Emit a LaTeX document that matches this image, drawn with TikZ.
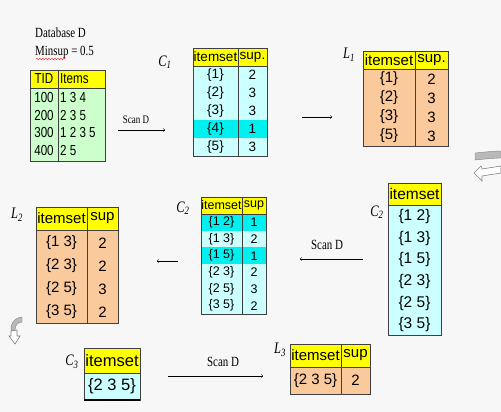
\documentclass[tikz,border=0pt]{standalone}
\usepackage{fontspec}
\setmainfont[FakeStretch=0.78]{Liberation Serif}
\setsansfont{Liberation Sans}
\newfontfamily\narrowsans[FakeStretch=0.8]{Liberation Sans}
\usetikzlibrary{decorations.pathmorphing}

\definecolor{bgpage}{HTML}{F7F7F7}
\definecolor{hdryellow}{HTML}{FFFF00}
\definecolor{dbgreen}{HTML}{CCFFCC}
\definecolor{candcyan}{HTML}{CCFFFF}
\definecolor{prunecyan}{HTML}{00F0F0}
\definecolor{largeorange}{HTML}{FACA9C}

\tikzset{
	tbl/.style={draw=black!75, line width=0.7pt},
	cell/.style={inner sep=0pt, font=\sffamily\fontsize{#1}{#1}\selectfont},
	cell/.default=14,
	dbcell/.style={inner sep=0pt, font=\narrowsans\fontsize{14.5}{14.5}\selectfont},
	setlabel/.style={inner sep=0pt, font=\fontsize{16}{16}\selectfont\itshape},
	scantext/.style={inner sep=0pt, font=\fontsize{#1}{#1}\selectfont},
	scantext/.default=14,
}

\begin{document}
\begin{tikzpicture}[x=1pt, y=-1pt]

	% page
	\fill[bgpage] (0,0) rectangle (501,412);
	\useasboundingbox (0,0) rectangle (501,412);

	% database D
	\node[scantext=14, anchor=west] (dbname) at (35,33) {Database D};
	\node[scantext=14, anchor=west] (minsup) at (35,52) {Minsup = 0.5};
	\draw[red, line width=0.4pt, decorate, decoration={snake, amplitude=0.7pt, segment length=3pt}] (36,59) -- (66,59);
	\fill[hdryellow] (30,70) rectangle (105,88);
	\fill[dbgreen] (30,88) rectangle (105,161);
	\draw[tbl] (30,70) rectangle (105,161);
	\draw[tbl] (30,88) -- (105,88);
	\draw[tbl] (58,70) -- (58,161);
	\node[dbcell] (dbtid) at (44,79) {TID};
	\node[dbcell, anchor=west] (dbitems) at (60,79) {Items};
	\node[dbcell] (t100) at (44,98) {100};
	\node[dbcell, anchor=west] (i100) at (60,98) {1 3 4};
	\node[dbcell] (t200) at (44,116) {200};
	\node[dbcell, anchor=west] (i200) at (60,116) {2 3 5};
	\node[dbcell] (t300) at (44,133) {300};
	\node[dbcell, anchor=west] (i300) at (60,133) {1 2 3 5};
	\node[dbcell] (t400) at (44,151) {400};
	\node[dbcell, anchor=west] (i400) at (60,151) {2 5};

	% scan D -> C1
	\node[scantext=11.5] (scan1) at (136,120) {Scan D};
	\coordinate (scan1a) at (118,130);
	\coordinate (scan1b) at (165,130);
	\draw[->] (scan1a) -- (scan1b);

	% candidate C1
	\node[setlabel] (c1name) at (165,62) {C\textsubscript{1}};
	\fill[hdryellow] (193,48) rectangle (267,66);
	\fill[candcyan] (193,66) rectangle (267,156);
	\fill[prunecyan] (193,120) rectangle (267,138);
	\draw[tbl] (193,48) rectangle (267,156);
	\draw[tbl] (193,66) -- (267,66);
	\draw[tbl] (238,48) -- (238,156);
	\node[cell=13.5] (c1h) at (215.5,57) {itemset};
	\node[cell=13.5] (c1s) at (252.5,57) {sup.};
	\node[cell=13.5] (c1a) at (215.5,75) {\{1\}};
	\node[cell=13.5] (c1as) at (252.5,75) {2};
	\node[cell=13.5] (c1b) at (215.5,93) {\{2\}};
	\node[cell=13.5] (c1bs) at (252.5,93) {3};
	\node[cell=13.5] (c1c) at (215.5,111) {\{3\}};
	\node[cell=13.5] (c1cs) at (252.5,111) {3};
	\node[cell=13.5] (c1d) at (215.5,129) {\{4\}};
	\node[cell=13.5] (c1ds) at (252.5,129) {1};
	\node[cell=13.5] (c1e) at (215.5,147) {\{5\}};
	\node[cell=13.5] (c1es) at (252.5,147) {3};

	% C1 -> L1
	\coordinate (prune1a) at (302,117);
	\coordinate (prune1b) at (332,117);
	\draw[->] (prune1a) -- (prune1b);

	% large L1
	\node[setlabel] (l1name) at (349,55) {L\textsubscript{1}};
	\fill[hdryellow] (363,51) rectangle (448,69);
	\fill[largeorange] (363,69) rectangle (448,146);
	\draw[tbl] (363,51) rectangle (448,146);
	\draw[tbl] (363,69) -- (448,69);
	\draw[tbl] (415,51) -- (415,146);
	\node[cell=15] (l1h) at (389,60) {itemset};
	\node[cell=15] (l1s) at (431.5,60) {sup.};
	\node[cell=15] (l1a) at (389,79) {\{1\}};
	\node[cell=15] (l1as) at (431.5,79) {2};
	\node[cell=15] (l1b) at (389,98) {\{2\}};
	\node[cell=15] (l1bs) at (431.5,98) {3};
	\node[cell=15] (l1c) at (389,117) {\{3\}};
	\node[cell=15] (l1cs) at (431.5,117) {3};
	\node[cell=15] (l1d) at (389,136) {\{5\}};
	\node[cell=15] (l1ds) at (431.5,136) {3};

	% turn arrow, right
	\fill[gray!55, draw=gray] (475,153) .. controls (485,152) and (495,151) .. (501,151)
		-- (501,158) .. controls (495,158) and (485,159) .. (475,160) -- cycle;
	\draw[gray, fill=white, line width=0.6pt] (501,166) .. controls (495,167) and (488,168) .. (482,169)
		-- (481,166) -- (474,173) -- (482,181) -- (482,176)
		.. controls (488,175) and (495,174) .. (501,173) -- cycle;

	% candidate C2 (generated)
	\node[setlabel] (c2name) at (377,212) {C\textsubscript{2}};
	\fill[hdryellow] (388,183) rectangle (441,205);
	\fill[candcyan] (388,205) rectangle (441,335);
	\draw[tbl] (388,183) rectangle (441,335);
	\draw[tbl] (388,205) -- (441,205);
	\node[cell=15.5] (c2h) at (414.5,194) {itemset};
	\node[cell=15.5] (c2a) at (414.5,216) {\{1 2\}};
	\node[cell=15.5] (c2b) at (414.5,238) {\{1 3\}};
	\node[cell=15.5] (c2c) at (414.5,259) {\{1 5\}};
	\node[cell=15.5] (c2d) at (414.5,281) {\{2 3\}};
	\node[cell=15.5] (c2e) at (414.5,303) {\{2 5\}};
	\node[cell=15.5] (c2f) at (414.5,324) {\{3 5\}};

	% scan D -> C2 counts
	\node[scantext=14] (scan2) at (327,245) {Scan D};
	\coordinate (scan2a) at (363,259);
	\coordinate (scan2b) at (300,259);
	\draw[->] (scan2a) -- (scan2b);

	% candidate C2 (counted)
	\node[setlabel] (c2cname) at (183,208) {C\textsubscript{2}};
	\fill[hdryellow] (201,197) rectangle (266,214);
	\fill[candcyan] (201,214) rectangle (266,314);
	\fill[prunecyan] (201,214) rectangle (266,230.7);
	\fill[prunecyan] (201,247.3) rectangle (266,264);
	\draw[tbl] (201,197) rectangle (266,314);
	\draw[tbl] (201,214) -- (266,214);
	\draw[tbl] (242,197) -- (242,314);
	\node[cell=12.5] (c2ch) at (221.5,205.5) {itemset};
	\node[cell=12.5] (c2cs) at (254,205.5) {sup};
	\node[cell=12.5] (c2ca) at (221.5,222.3) {\{1 2\}};
	\node[cell=12.5] (c2cas) at (254,222.3) {1};
	\node[cell=12.5] (c2cb) at (221.5,239) {\{1 3\}};
	\node[cell=12.5] (c2cbs) at (254,239) {2};
	\node[cell=12.5] (c2cc) at (221.5,255.7) {\{1 5\}};
	\node[cell=12.5] (c2ccs) at (254,255.7) {1};
	\node[cell=12.5] (c2cd) at (221.5,272.3) {\{2 3\}};
	\node[cell=12.5] (c2cds) at (254,272.3) {2};
	\node[cell=12.5] (c2ce) at (221.5,289) {\{2 5\}};
	\node[cell=12.5] (c2ces) at (254,289) {3};
	\node[cell=12.5] (c2cf) at (221.5,305.7) {\{3 5\}};
	\node[cell=12.5] (c2cfs) at (254,305.7) {2};

	% C2 -> L2
	\coordinate (prune2a) at (178,261);
	\coordinate (prune2b) at (157,261);
	\draw[->] (prune2a) -- (prune2b);

	% large L2
	\node[setlabel] (l2name) at (17,215) {L\textsubscript{2}};
	\fill[hdryellow] (36,207) rectangle (118,230);
	\fill[largeorange] (36,230) rectangle (118,323);
	\draw[tbl] (36,207) rectangle (118,323);
	\draw[tbl] (36,230) -- (118,230);
	\draw[tbl] (87,207) -- (87,323);
	\node[cell=15] (l2h) at (61.5,218.5) {itemset};
	\node[cell=15] (l2s) at (102.5,218.5) {sup};
	\node[cell=15] (l2a) at (61.5,243) {\{1 3\}};
	\node[cell=15] (l2as) at (102.5,243) {2};
	\node[cell=15] (l2b) at (61.5,266) {\{2 3\}};
	\node[cell=15] (l2bs) at (102.5,266) {2};
	\node[cell=15] (l2c) at (61.5,289) {\{2 5\}};
	\node[cell=15] (l2cs) at (102.5,289) {3};
	\node[cell=15] (l2d) at (61.5,312) {\{3 5\}};
	\node[cell=15] (l2ds) at (102.5,312) {2};

	% turn arrow, left
	\fill[gray!55, draw=gray] (22,317) .. controls (14,318) and (10,324) .. (11,331)
		-- (15,330) .. controls (15,325) and (18,322) .. (22,322) -- cycle;
	\draw[gray, fill=white, line width=0.6pt] (11,331) -- (11,336) -- (9,336) -- (15,344)
		-- (20,336) -- (17,336) -- (17,330) -- cycle;

	% candidate C3
	\node[setlabel] (c3name) at (72,362) {C\textsubscript{3}};
	\fill[hdryellow] (84,348) rectangle (140,373);
	\fill[candcyan] (84,373) rectangle (140,400);
	\draw[tbl] (84,348) rectangle (140,400);
	\draw[tbl] (84,373) -- (140,373);
	\draw[line width=1.4pt] (84,400) -- (140,400);
	\node[cell=16.5] (c3h) at (112,360.5) {itemset};
	\node[cell=16.5] (c3a) at (112,386.5) {\{2 3 5\}};

	% scan D -> L3
	\node[scantext=14] (scan3) at (223,362) {Scan D};
	\coordinate (scan3a) at (168,376);
	\coordinate (scan3b) at (263,376);
	\draw[->] (scan3a) -- (scan3b);

	% large L3
	\node[setlabel] (l3name) at (280,350) {L\textsubscript{3}};
	\fill[hdryellow] (290,344) rectangle (370,367);
	\fill[largeorange] (290,367) rectangle (370,394);
	\draw[tbl] (290,344) rectangle (370,394);
	\draw[tbl] (290,367) -- (370,367);
	\draw[tbl] (341,344) -- (341,394);
	\node[cell=15] (l3h) at (315.5,355.5) {itemset};
	\node[cell=15] (l3s) at (355.5,355.5) {sup};
	\node[cell=15] (l3a) at (315.5,380.5) {\{2 3 5\}};
	\node[cell=15] (l3as) at (355.5,380.5) {2};

\end{tikzpicture}
\end{document}
